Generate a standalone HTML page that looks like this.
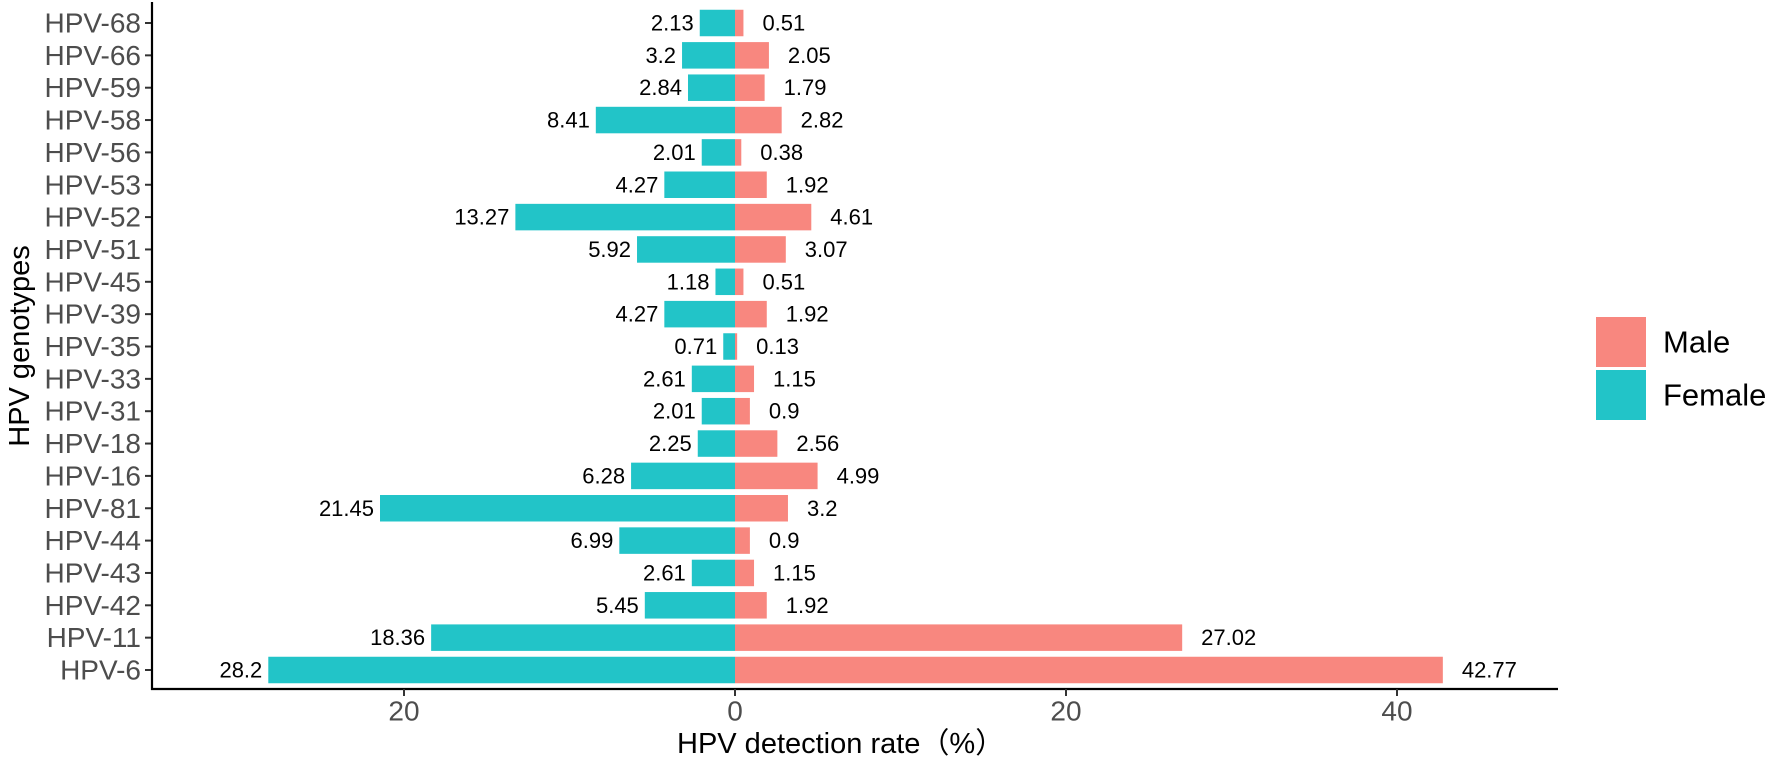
<!DOCTYPE html>
<html><head><meta charset="utf-8"><style>
html,body{margin:0;padding:0;background:#fff;}
svg{display:block;font-family:"Liberation Sans","Noto Sans CJK SC",sans-serif;}
</style></head><body>
<svg id="chart" width="1772" height="768" viewBox="0 0 1772 768" xmlns="http://www.w3.org/2000/svg">
<g id="bars"></g>
<g id="labels"></g>
<g id="axes"></g>
<text x="20" y="346" transform="rotate(-90 20 346)" text-anchor="middle" dominant-baseline="central" font-size="29" fill="#000">HPV genotypes</text>
<text x="677" y="753" font-size="29" fill="#000">HPV detection rate（%）</text>
<g>
<rect x="1596" y="317" width="50" height="50" fill="#f8877f"/>
<rect x="1596" y="370" width="50" height="50" fill="#22c4c8"/>
<text x="1663" y="342" font-size="31" dominant-baseline="central" fill="#000">Male</text>
<text x="1663" y="395" font-size="31" dominant-baseline="central" fill="#000">Female</text>
</g>
</svg>
<script>
const categories = ["HPV-68","HPV-66","HPV-59","HPV-58","HPV-56","HPV-53","HPV-52","HPV-51","HPV-45","HPV-39","HPV-35","HPV-33","HPV-31","HPV-18","HPV-16","HPV-81","HPV-44","HPV-43","HPV-42","HPV-11","HPV-6"];
const femaleValues = [2.13,3.2,2.84,8.41,2.01,4.27,13.27,5.92,1.18,4.27,0.71,2.61,2.01,2.25,6.28,21.45,6.99,2.61,5.45,18.36,28.2];
const maleValues = [0.51,2.05,1.79,2.82,0.38,1.92,4.61,3.07,0.51,1.92,0.13,1.15,0.9,2.56,4.99,3.2,0.9,1.15,1.92,27.02,42.77];
const xTicks = [-20,0,20,40];
const xTickLabels = ["20","0","20","40"];

const NS = "http://www.w3.org/2000/svg";
const x0 = 735, unit = 16.55;
function xScale(v){ return x0 + v*unit; }
const yTop = 23, step = 32.35, barH = 26.5;
function yScale(i){ return yTop + i*step; }
const axisX = 152, axisY = 689, axisRight = 1558;

function mk(tag, attrs, parent){
  const e = document.createElementNS(NS, tag);
  for (const k in attrs) e.setAttribute(k, attrs[k]);
  parent.appendChild(e);
  return e;
}
const bars = document.getElementById('bars');
const labels = document.getElementById('labels');
const axes = document.getElementById('axes');

categories.forEach((c,i)=>{
  const cy = yScale(i);
  const fx = xScale(-femaleValues[i]);
  const fb = mk('rect',{x:fx,y:cy-barH/2,width:x0-fx,height:barH,fill:'#22c4c8'},bars);
  
  
  const mx = xScale(maleValues[i]);
  const mb = mk('rect',{x:x0,y:cy-barH/2,width:mx-x0,height:barH,fill:'#f8877f'},bars);
  
  
  const fl = mk('text',{x:fx-6,y:cy,'text-anchor':'end','dominant-baseline':'central','font-size':22,fill:'#000'},labels);
  fl.textContent = String(femaleValues[i]);
  
  
  const ml = mk('text',{x:mx+19,y:cy,'text-anchor':'start','dominant-baseline':'central','font-size':22,fill:'#000'},labels);
  ml.textContent = String(maleValues[i]);
  
  
  const tk = mk('line',{x1:axisX-7,x2:axisX,y1:cy,y2:cy,stroke:'#333','stroke-width':2},axes);
  
  
  const tl = mk('text',{x:axisX-11,y:cy,'text-anchor':'end','dominant-baseline':'central','font-size':28,fill:'#4d4d4d'},axes);
  tl.textContent = c;
  
  
});
const yl = mk('line',{x1:axisX,x2:axisX,y1:2,y2:axisY+1,stroke:'#000','stroke-width':2.2},axes);


const xl = mk('line',{x1:axisX-1,x2:axisRight,y1:axisY,y2:axisY,stroke:'#000','stroke-width':2.2},axes);


xTicks.forEach((t,j)=>{
  const xx = xScale(t);
  const tk = mk('line',{x1:xx,x2:xx,y1:axisY,y2:axisY+7,stroke:'#333','stroke-width':2},axes);
  
  
  const tl = mk('text',{x:xx,y:711,'text-anchor':'middle','dominant-baseline':'central','font-size':28,fill:'#4d4d4d'},axes);
  tl.textContent = xTickLabels[j];
  
  
});
</script>
</body></html>
